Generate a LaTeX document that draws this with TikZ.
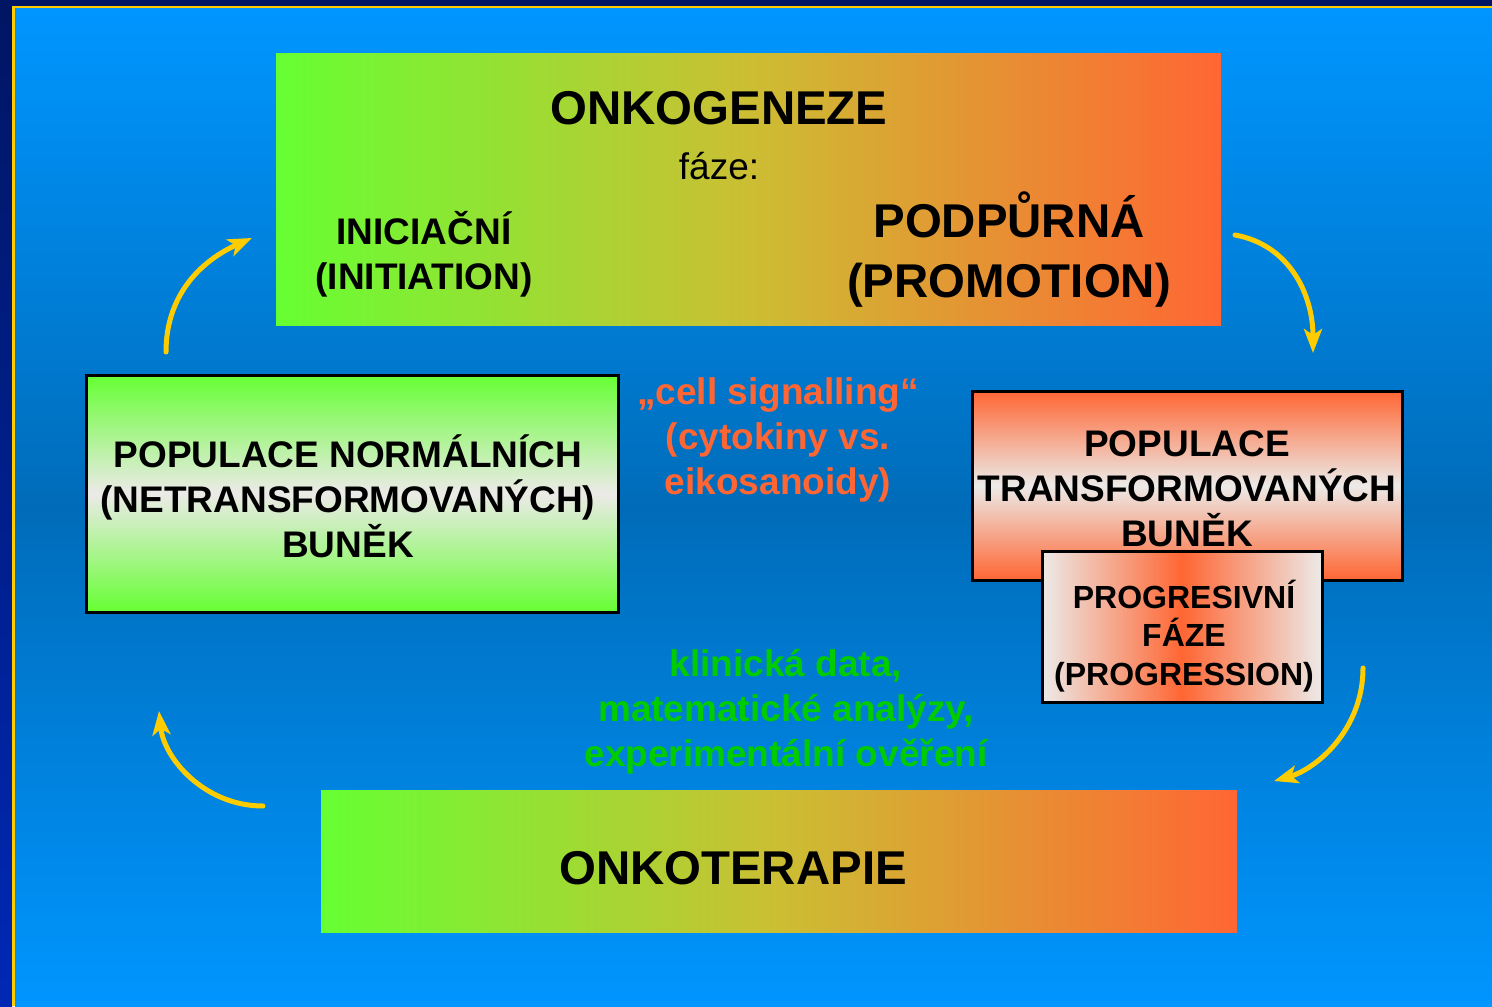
\documentclass[tikz,border=0pt]{standalone}
\usepackage{fontspec}
\setmainfont{Liberation Sans}
\usetikzlibrary{arrows.meta}

\begin{document}
\begin{tikzpicture}[x=0.5pt,y=-0.5pt,font=\bfseries,
    box/.style={inner sep=0pt, outer sep=0pt, align=center},
    framed/.style={box, draw=ink, line width=1.5pt},
    bigtext/.style={align=center, font=\bfseries\fontsize{23.7}{30}\selectfont},
    midtext/.style={align=center, font=\bfseries\fontsize{18.5}{22.5}\selectfont},
    smalltext/.style={align=center, font=\bfseries\fontsize{16}{19.3}\selectfont},
    cyclearrow/.style={sun, line width=2.5pt, line cap=round,
      -{Stealth[length=12pt,width=9pt,inset=3pt]}}]
  \definecolor{ink}{RGB}{0,0,0}
  \definecolor{navy}{RGB}{0,22,100}
  \definecolor{navylow}{RGB}{0,40,180}
  \definecolor{sun}{RGB}{255,204,0}
  \definecolor{skytop}{RGB}{0,150,255}
  \definecolor{skymid}{RGB}{0,108,185}
  \definecolor{lime}{RGB}{102,255,51}
  \definecolor{flame}{RGB}{255,102,51}
  \definecolor{mustard}{RGB}{204,190,51}
  \definecolor{pale}{RGB}{236,234,232}
  \definecolor{leaf}{RGB}{0,204,0}

  \useasboundingbox (0,0) rectangle (1492,1006);

  % background and frame
  \fill[navy] (0,0) rectangle (1492,1006);
  \shade[top color=navy, bottom color=navylow] (0,6) rectangle (12,1006);
  \fill[sun] (12,6) rectangle (1492,1006);
  \shade[top color=skytop, bottom color=skytop, middle color=skymid] (15,9) rectangle (1492,1006);

  % boxes
  \node[box, minimum width=472.5pt, minimum height=135.5pt,
        left color=lime, right color=flame, middle color=mustard] (onko) at (748.5,189.5) {};
  \node[box, minimum width=458pt, minimum height=71pt,
        left color=lime, right color=flame, middle color=mustard] (terapie) at (779,861) {};
  \node[framed, minimum width=266pt, minimum height=118.5pt,
        top color=lime, bottom color=lime, middle color=pale] (normal) at (352,493.5) {};
  \node[framed, minimum width=215pt, minimum height=94.5pt,
        top color=flame, bottom color=flame, middle color=pale] (transf) at (1187,485.5) {};
  \node[framed, minimum width=140pt, minimum height=75.5pt,
        left color=pale, right color=pale, middle color=flame] (progr) at (1182,626.5) {};

  % texts
  \node[bigtext] (title) at (719,108) {ONKOGENEZE};
  \node[font=\fontsize{18.5}{22.5}\selectfont] (faze) at (719,166) {fáze:};
  \node[midtext] (inic) at (424,254) {INICIAČNÍ\\(INITIATION)};
  \node[bigtext] (podp) at (1009,250) {PODPŮRNÁ\\(PROMOTION)};
  \node[midtext] (normaltext) at (348,496) {POPULACE NORMÁLNÍCH\\(NETRANSFORMOVANÝCH)\\BUNĚK};
  \node[midtext] (transftext) at (1187,489) {POPULACE\\TRANSFORMOVANÝCH\\BUNĚK};
  \node[smalltext] (progrtext) at (1184,636) {PROGRESIVNÍ\\FÁZE\\(PROGRESSION)};
  \node[midtext, flame] (signal) at (778,440) {„cell signalling“\\(cytokiny vs.\\eikosanoidy)};
  \node[midtext, leaf] (data) at (786,712) {klinická data,\\matematické analýzy,\\experimentální ověření};
  \node[bigtext] (terapietext) at (733,868) {ONKOTERAPIE};

  % cycle arrows
  \coordinate (a1s) at (166,352);  \coordinate (a1e) at (252,238);
  \coordinate (a2s) at (1235,235); \coordinate (a2e) at (1313,353);
  \coordinate (a3s) at (1363,668); \coordinate (a3e) at (1274,781);
  \coordinate (a4s) at (263,806);  \coordinate (a4e) at (159,711);
  \draw[cyclearrow] (a1s) .. controls +(0,-62) and +(-45,20) .. (a1e);
  \draw[cyclearrow] (a2s) .. controls +(55,10) and +(0,-58) .. (a2e);
  \draw[cyclearrow] (a3s) .. controls +(0,62) and +(42,-12) .. (a3e);
  \draw[cyclearrow] (a4s) .. controls +(-58,0) and +(5,48) .. (a4e);
\end{tikzpicture}
\end{document}
